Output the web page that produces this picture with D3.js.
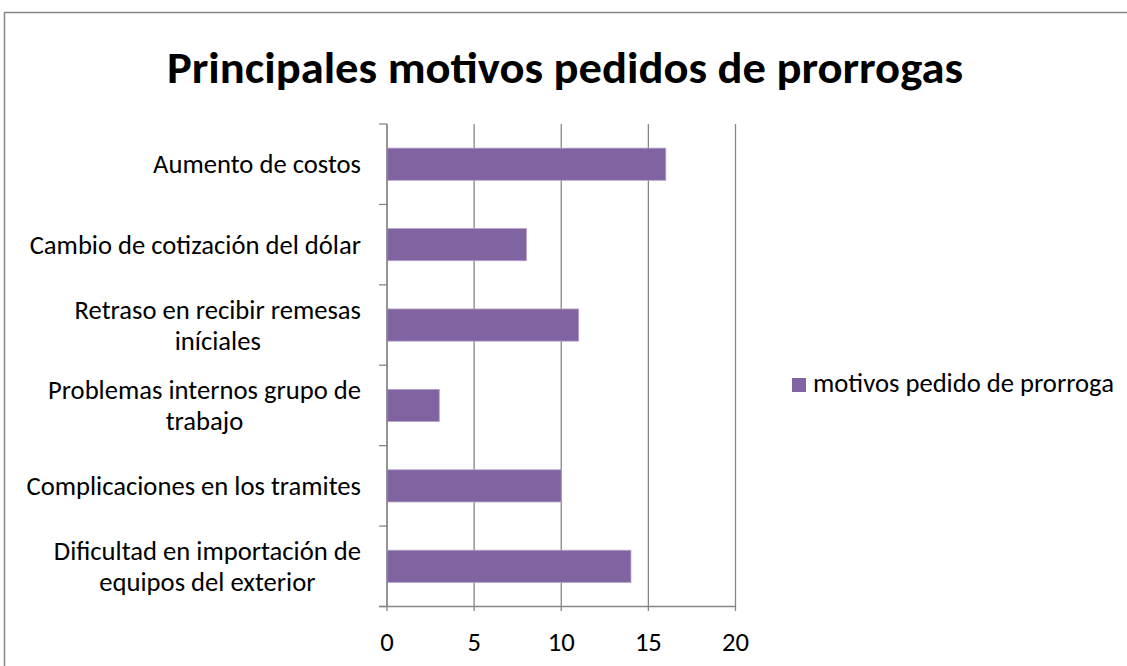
<!DOCTYPE html>
<html>
<head>
<meta charset="utf-8">
<script src="https://cdn.jsdelivr.net/npm/d3@7"></script>
<style>
	body { margin: 0; background: #fff; }
	svg text { font-family: Carlito, Calibri, Lato, "Open Sans", sans-serif; fill: #000; }
</style>
</head>
<body>
<div id="chart"></div>
<script>
// Data
var categories = [
	["Aumento de costos"],
	["Cambio de cotización del dólar"],
	["Retraso en recibir remesas", "iníciales"],
	["Problemas internos grupo de", "trabajo"],
	["Complicaciones en los tramites"],
	["Dificultad en importación de", "equipos del exterior"]
];
var values = [16, 8, 11, 3, 10, 14];
var xTicks = [0, 5, 10, 15, 20];
var seriesName = "motivos pedido de prorroga";
var title = "Principales motivos pedidos de prorrogas";

var width = 1127,
	height = 666,
	barColor = "#8064A2",
	gridColor = "#868686";

var svg = d3.select("#chart")
	.append("svg")
	.attr("width", width)
	.attr("height", height);

// outer chart border (right/bottom run off the picture)
svg.append("rect")
	.attr("x", 4.5)
	.attr("y", 12.5)
	.attr("width", 1140)
	.attr("height", 700)
	.attr("fill", "#fff")
	.attr("stroke", gridColor)
	.attr("stroke-width", 1.5);

// Title - squeezed a bit to look like the narrow original font
svg.append("text")
	.attr("x", 565)
	.attr("y", 83)
	.attr("text-anchor", "middle")
	.attr("font-weight", "bold")
	.attr("font-size", 45)
	.attr("textLength", 796)
	.attr("lengthAdjust", "spacingAndGlyphs")
	.text(title);

// Scales
var x = d3.scaleLinear().domain([0, 20]).range([387, 735.5]);
var y = d3.scaleBand()
	.domain(d3.range(categories.length))
	.range([124, 606.5])
	.paddingInner(0.6)
	.paddingOuter(0.3);
var yTick = d3.scaleLinear().domain([0, categories.length]).range([124, 606.5]);

// measure base label font
var probe = svg.append("text").attr("font-size", 20).text("Aumento de costos");
var labelSize = 20 * 208 / probe.node().getComputedTextLength();
probe.remove();

// gridlines
svg.append("g")
	.selectAll("line")
	.data(xTicks)
	.enter()
	.append("line")
	.attr("x1", function(d) { return x(d); })
	.attr("x2", function(d) { return x(d); })
	.attr("y1", 124)
	.attr("y2", 611)
	.attr("stroke", gridColor)
	.attr("stroke-width", 1.3);

// bars
svg.append("g")
	.selectAll("rect")
	.data(values)
	.enter()
	.append("rect")
	.attr("x", x(0))
	.attr("y", function(d, i) { return y(i); })
	.attr("width", function(d) { return x(d) - x(0); })
	.attr("height", y.bandwidth())
	.attr("fill", barColor)
	.attr("stroke", "#b3a2c7")
	.attr("stroke-width", 0.8);

// category axis line and ticks
svg.append("line")
	.attr("x1", x(0)).attr("x2", x(0))
	.attr("y1", 124).attr("y2", 606.5)
	.attr("stroke", gridColor).attr("stroke-width", 1.3);
svg.append("g")
	.selectAll("line")
	.data(d3.range(categories.length + 1))
	.enter()
	.append("line")
	.attr("x1", 379)
	.attr("x2", x(0))
	.attr("y1", function(d) { return yTick(d); })
	.attr("y2", function(d) { return yTick(d); })
	.attr("stroke", gridColor)
	.attr("stroke-width", 1.3);

// value axis line
svg.append("line")
	.attr("x1", 379).attr("x2", x(20))
	.attr("y1", 606.5).attr("y2", 606.5)
	.attr("stroke", gridColor).attr("stroke-width", 1.3);

// x tick labels
svg.append("g")
	.selectAll("text")
	.data(xTicks)
	.enter()
	.append("text")
	.attr("x", function(d) { return x(d); })
	.attr("y", 651)
	.attr("text-anchor", "middle")
	.attr("font-size", labelSize)
	.text(function(d) { return d; });

// category labels
var lineH = 31;
var labels = svg.append("g");
categories.forEach(function(lines, i) {
	var cy = y(i) + y.bandwidth() / 2;
	var g = labels.append("text")
		.attr("font-size", labelSize)
		.attr("text-anchor", "middle");
	var spans = lines.map(function(l, j) {
		return g.append("tspan")
			.attr("y", cy + (j - (lines.length - 1) / 2) * lineH + labelSize * 0.34)
			.text(l);
	});
	var maxW = d3.max(spans, function(s) { return s.node().getComputedTextLength(); });
	spans.forEach(function(s) { s.attr("x", 361 - maxW / 2); });
});

// legend
svg.append("rect")
	.attr("x", 792)
	.attr("y", 378)
	.attr("width", 14)
	.attr("height", 14)
	.attr("fill", barColor);
svg.append("text")
	.attr("x", 813)
	.attr("y", 392)
	.attr("font-size", labelSize)
	.text(seriesName);
</script>
</body>
</html>
